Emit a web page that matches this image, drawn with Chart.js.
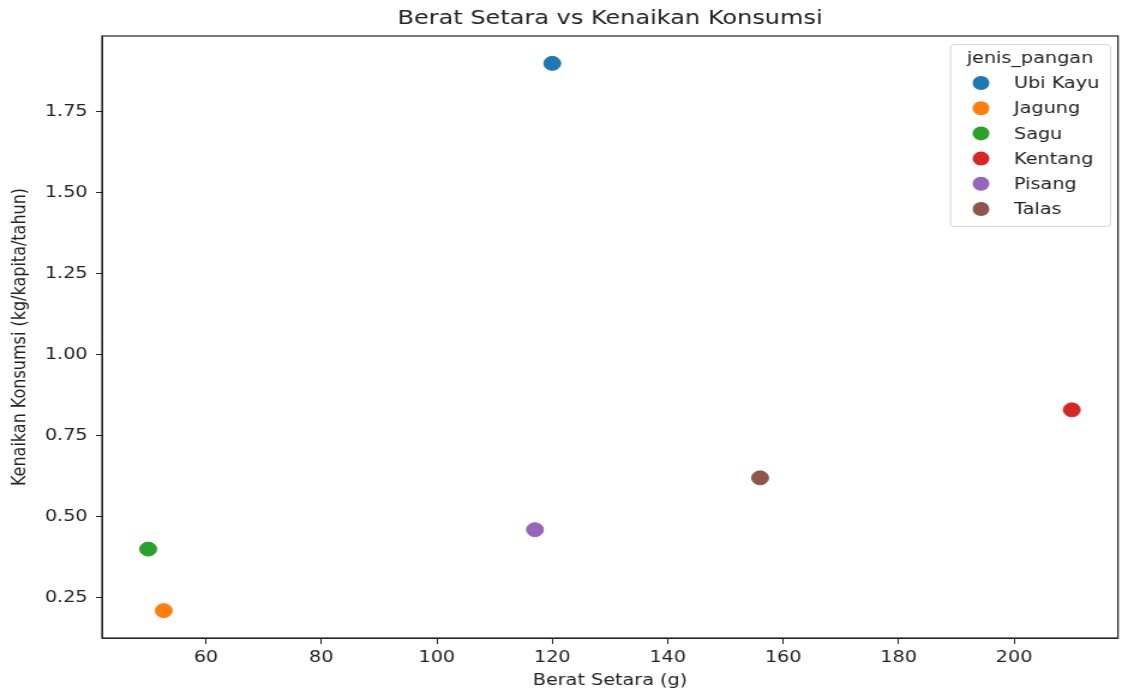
<!DOCTYPE html>
<html>
<head>
<meta charset="utf-8">
<script src="https://cdn.jsdelivr.net/npm/chart.js@4/dist/chart.umd.min.js"></script>
<style>
  html, body { margin: 0; padding: 0; background: #fff; overflow: hidden; }
  canvas { display: block; }
</style>
</head>
<body>
<!-- the source image is stretched sideways, so the canvas is drawn narrower and widened by css -->
<canvas id="chart" width="940" height="693" style="width:1128px;height:693px"></canvas>
<script>
const categories = ['Ubi Kayu', 'Jagung', 'Sagu', 'Kentang', 'Pisang', 'Talas'];
const beratSetara = [120, 52.7, 50, 210, 117, 156];
const kenaikanKonsumsi = [1.90, 0.21, 0.40, 0.83, 0.46, 0.62];
const colors = ['#1f77b4', '#ff7f0e', '#2ca02c', '#d62728', '#9467bd', '#8c564b'];
const xTicks = [60, 80, 100, 120, 140, 160, 180, 200];
const yTicks = [0.25, 0.5, 0.75, 1.0, 1.25, 1.5, 1.75];

const FONT = 'DejaVu Sans';
const SX = 1.2; // horizontal stretch of the css box

// matplotlib-like 5% margins around the data
function padded(values) {
    const lo = Math.min(...values), hi = Math.max(...values);
    const m = (hi - lo) * 0.05;
    return [lo - m, hi + m];
}
const [xMin, xMax] = padded(beratSetara);
const [yMin, yMax] = padded(kenaikanKonsumsi);

const frame = {
    id: 'frame',
    afterDatasetsDraw(chart) {
        const a = chart.chartArea, ctx = chart.ctx;
        ctx.save();
        ctx.strokeStyle = '#222';
        ctx.lineWidth = 1.2;
        ctx.strokeRect(a.left, a.top, a.right - a.left, a.bottom - a.top);
        ctx.restore();
    }
};

const boxLegend = {
    id: 'boxLegend',
    afterDraw(chart) {
        const ctx = chart.ctx;
        const x0 = 950 / SX, y0 = 44, w = 160 / SX, h = 182;
        ctx.save();
        ctx.fillStyle = 'rgba(255,255,255,0.8)';
        ctx.strokeStyle = '#d6d6d6';
        ctx.lineWidth = 1;
        ctx.beginPath();
        ctx.roundRect(x0 + 0.5, y0 + 0.5, w, h, 3);
        ctx.fill();
        ctx.stroke();
        ctx.fillStyle = '#222';
        ctx.font = '16px ' + FONT;
        ctx.textAlign = 'center';
        ctx.textBaseline = 'middle';
        ctx.fillText('jenis_pangan', x0 + w / 2, y0 + 15);
        ctx.textAlign = 'left';
        chart.data.datasets.forEach((ds, i) => {
            const cy = y0 + 39 + i * 25.2;
            ctx.fillStyle = ds.backgroundColor;
            ctx.beginPath();
            ctx.arc(x0 + 31 / SX, cy, 7, 0, Math.PI * 2);
            ctx.fill();
            ctx.fillStyle = '#222';
            ctx.fillText(ds.label, x0 + 64 / SX, cy + 1);
        });
        ctx.restore();
    }
};

new Chart(document.getElementById('chart'), {
    type: 'scatter',
    data: {
        datasets: categories.map((c, i) => ({
            label: c,
            data: [{x: beratSetara[i], y: kenaikanKonsumsi[i]}],
            backgroundColor: colors[i],
            borderColor: colors[i],
            pointRadius: 7,
            pointHoverRadius: 7,
        })),
    },
    options: {
        responsive: false,
        devicePixelRatio: 1,
        animation: false,
        layout: {padding: {left: 0, right: 10 / SX, top: 0, bottom: 0}},
        plugins: {
            legend: {display: false},
            tooltip: {enabled: false},
            title: {
                display: true,
                fullSize: false,
                text: 'Berat Setara vs Kenaikan Konsumsi',
                color: '#222',
                font: {family: FONT, size: 20, weight: 'normal'},
                padding: {top: 7, bottom: 5},
            },
        },
        scales: {
            x: {
                type: 'linear',
                min: xMin,
                max: xMax,
                afterBuildTicks: (axis) => { axis.ticks = xTicks.map(v => ({value: v})); },
                afterFit: (axis) => { axis.height = 55; },
                grid: {drawOnChartArea: false, tickLength: 6, tickColor: '#222'},
                border: {display: true, color: '#222'},
                ticks: {color: '#222', font: {family: FONT, size: 16}, padding: 4, maxRotation: 0},
                title: {
                    display: true,
                    text: 'Berat Setara (g)',
                    color: '#222',
                    font: {family: FONT, size: 16},
                    padding: {top: 0, bottom: 3},
                },
            },
            y: {
                type: 'linear',
                min: yMin,
                max: yMax,
                afterBuildTicks: (axis) => { axis.ticks = yTicks.map(v => ({value: v})); },
                afterFit: (axis) => { axis.width = 102 / SX; },
                grid: {drawOnChartArea: false, tickLength: 5, tickColor: '#222'},
                border: {display: true, color: '#222'},
                ticks: {
                    color: '#222',
                    font: {family: FONT, size: 16},
                    padding: 7,
                    callback: (v) => Number(v).toFixed(2),
                },
                title: {
                    display: true,
                    text: 'Kenaikan Konsumsi (kg/kapita/tahun)',
                    color: '#222',
                    font: {family: FONT, size: 16},
                    padding: {top: 7, bottom: 0},
                },
            },
        },
    },
    plugins: [frame, boxLegend],
});
</script>
</body>
</html>
